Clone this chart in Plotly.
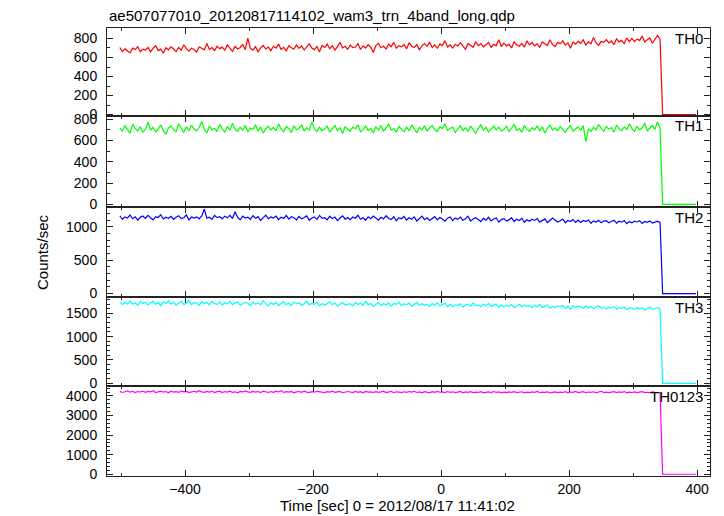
import numpy as np
import plotly.graph_objects as go
from plotly.subplots import make_subplots

# ---------------- data ----------------
title_text = "ae507077010_20120817114102_wam3_trn_4band_long.qdp"
x_title = "Time [sec] 0 = 2012/08/17 11:41:02"
y_title = "Counts/sec"
band_names = ["TH0", "TH1", "TH2", "TH3", "TH0123"]
band_colors = ["#ff0000", "#00ff00", "#0000ff", "#00ffff", "#ff00ff"]

time_start = -502.0   # first bin centre [s]
bin_width = 4.0       # [s]

off_counts = [0, 0, 0, 0, 0, 0, 0, 0, 0, 0, 0, 0, 0, 0]

th0_counts = [
    705, 662, 690, 671, 648, 698, 683, 712, 660, 688,
    679, 705, 659, 697, 724, 672, 688, 645, 703, 681,
    713, 689, 662, 705, 676, 734, 693, 667, 698, 683,
    656, 712, 698, 680, 746, 685, 704, 672, 719, 693,
    709, 677, 732, 696, 664, 717, 690, 705, 736, 682,
    803, 696, 678, 713, 660, 701, 726, 689, 710, 672,
    718, 699, 741, 684, 707, 670, 724, 703, 689, 730,
    696, 722, 678, 711, 745, 700, 683, 715, 659, 726,
    705, 740, 692, 723, 678, 714, 759, 700, 718, 687,
    731, 703, 710, 746, 684, 723, 699, 735, 708, 653,
    726, 749, 703, 718, 690, 742, 714, 759, 697, 724,
    712, 737, 691, 756, 719, 704, 735, 680, 723, 746,
    717, 761, 706, 733, 697, 743, 725, 777, 711, 732,
    699, 739, 721, 755, 714, 686, 748, 729, 707, 765,
    724, 746, 712, 733, 760, 706, 738, 723, 788, 715,
    751, 722, 738, 700, 765, 734, 719, 748, 710, 775,
    734, 758, 723, 744, 706, 763, 740, 726, 787, 738,
    715, 759, 744, 775, 730, 753, 697, 764, 741, 770,
    749, 787, 731, 765, 744, 811, 753, 727, 770, 759,
    787, 753, 774, 735, 796, 764, 780, 747, 805, 766,
    801, 767, 793, 780, 825, 763, 787, 805, 750, 799,
    832, 790,
] + off_counts

th1_counts = [
    720, 688, 741, 702, 668, 755, 714, 690, 731, 679,
    706, 772, 698, 725, 681, 710, 746, 693, 660, 719,
    737, 701, 684, 758, 712, 676, 729, 695, 744, 708,
    690, 723, 781, 705, 672, 738, 700, 716, 684, 752,
    711, 679, 733, 697, 764, 706, 687, 725, 698, 741,
    682, 717, 702, 748, 690, 728, 669, 712, 736, 699,
    724, 691, 757, 708, 683, 730, 714, 675, 739, 702,
    716, 745, 689, 722, 698, 776, 707, 684, 727, 693,
    708, 735, 679, 712, 740, 695, 720, 666, 731, 704,
    689, 726, 711, 748, 683, 702, 737, 694, 715, 672,
    729, 700, 742, 686, 719, 755, 698, 711, 677, 733,
    705, 682, 726, 694, 747, 709, 671, 724, 700, 738,
    691, 718, 743, 702, 685, 730, 712, 758, 696, 714,
    727, 675, 709, 740, 693, 721, 686, 734, 705, 668,
    715, 749, 698, 724, 680, 711, 737, 701, 726, 690,
    703, 735, 684, 718, 752, 697, 713, 679, 742, 708,
    686, 722, 701, 738, 694, 729, 670, 716, 745, 699,
    720, 693, 731, 705, 677, 714, 740, 688, 705, 728,
    697, 741, 590, 710, 683, 725, 699, 750, 714, 687,
    732, 706, 722, 679, 745, 712, 694, 728, 703, 757,
    713, 686, 734, 701, 720, 764, 692, 716, 741, 705,
    778, 712,
] + off_counts

th2_counts = [
    1165, 1112, 1148, 1131, 1176, 1120, 1150, 1098, 1141, 1160,
    1125, 1170, 1136, 1104, 1152, 1139, 1181, 1117, 1144, 1128,
    1157, 1109, 1142, 1166, 1123, 1135, 1178, 1101, 1146, 1130,
    1148, 1119, 1162, 1265, 1127, 1143, 1110, 1169, 1136, 1151,
    1116, 1158, 1134, 1172, 1124, 1225, 1139, 1105, 1160, 1131,
    1145, 1112, 1166, 1128, 1151, 1094, 1138, 1173, 1120, 1147,
    1131, 1160, 1107, 1142, 1125, 1168, 1115, 1150, 1136, 1102,
    1154, 1119, 1139, 1163, 1097, 1132, 1148, 1110, 1170, 1127,
    1136, 1103, 1158, 1122, 1145, 1092, 1131, 1164, 1115, 1140,
    1107, 1146, 1128, 1172, 1113, 1135, 1098, 1150, 1122, 1160,
    1130, 1099, 1142, 1117, 1165, 1124, 1108, 1149, 1090, 1137,
    1120, 1156, 1101, 1135, 1112, 1148, 1087, 1129, 1160, 1106,
    1133, 1095, 1124, 1151, 1102, 1139, 1115, 1083, 1128, 1147,
    1092, 1130, 1111, 1146, 1098, 1121, 1159, 1085, 1117, 1135,
    1110, 1078, 1125, 1099, 1142, 1088, 1116, 1131, 1070, 1107,
    1121, 1085, 1103, 1136, 1079, 1112, 1094, 1127, 1068, 1105,
    1082, 1113, 1095, 1124, 1070, 1101, 1118, 1063, 1097, 1130,
    1101, 1072, 1090, 1115, 1060, 1094, 1079, 1108, 1066, 1099,
    1065, 1094, 1077, 1102, 1052, 1088, 1071, 1096, 1059, 1085,
    1090, 1061, 1079, 1098, 1055, 1083, 1069, 1094, 1048, 1077,
    1058, 1084, 1072, 1091, 1050, 1079, 1066, 1088, 1057, 1075,
    1083, 1062,
] + off_counts

th3_counts = [
    1745, 1688, 1731, 1702, 1766, 1694, 1728, 1673, 1750, 1711,
    1739, 1680, 1722, 1758, 1697, 1734, 1665, 1745, 1709, 1771,
    1698, 1740, 1676, 1725, 1753, 1690, 1716, 1779, 1684, 1731,
    1720, 1667, 1749, 1703, 1735, 1681, 1757, 1712, 1690, 1740,
    1679, 1727, 1701, 1760, 1686, 1719, 1744, 1672, 1708, 1733,
    1715, 1663, 1738, 1692, 1725, 1680, 1767, 1702, 1656, 1729,
    1688, 1734, 1670, 1711, 1748, 1683, 1720, 1665, 1742, 1702,
    1726, 1675, 1705, 1758, 1681, 1714, 1693, 1737, 1660, 1709,
    1671, 1712, 1746, 1685, 1722, 1658, 1703, 1738, 1677, 1695,
    1708, 1660, 1731, 1690, 1719, 1673, 1752, 1686, 1712, 1649,
    1696, 1733, 1664, 1707, 1680, 1726, 1655, 1711, 1692, 1742,
    1662, 1701, 1685, 1722, 1648, 1690, 1734, 1669, 1706, 1678,
    1693, 1650, 1711, 1674, 1729, 1661, 1687, 1716, 1641, 1700,
    1648, 1683, 1667, 1705, 1638, 1679, 1698, 1652, 1721, 1664,
    1676, 1639, 1692, 1660, 1715, 1644, 1671, 1699, 1630, 1683,
    1635, 1672, 1651, 1688, 1622, 1665, 1694, 1640, 1677, 1656,
    1660, 1618, 1675, 1643, 1690, 1627, 1656, 1681, 1612, 1648,
    1621, 1659, 1637, 1670, 1605, 1648, 1576, 1663, 1629, 1652,
    1640, 1603, 1655, 1618, 1646, 1596, 1633, 1661, 1607, 1629,
    1595, 1631, 1610, 1648, 1588, 1622, 1604, 1637, 1579, 1618,
    1612, 1580, 1626, 1595, 1619, 1571, 1603, 1630, 1586, 1608,
    1624, 1590,
] + off_counts

th0123_counts = [
    4235, 4180, 4218, 4262, 4195, 4240, 4170, 4226, 4205, 4251,
    4188, 4230, 4212, 4275, 4176, 4219, 4244, 4193, 4228, 4160,
    4247, 4201, 4222, 4183, 4258, 4210, 4236, 4172, 4215, 4240,
    4196, 4268, 4208, 4185, 4231, 4203, 4252, 4178, 4220, 4245,
    4174, 4226, 4199, 4243, 4188, 4214, 4160, 4233, 4206, 4255,
    4212, 4183, 4237, 4195, 4228, 4170, 4249, 4203, 4179, 4226,
    4190, 4242, 4205, 4266, 4181, 4219, 4197, 4232, 4163, 4211,
    4229, 4188, 4248, 4201, 4174, 4225, 4192, 4239, 4208, 4185,
    4176, 4220, 4196, 4250, 4183, 4212, 4234, 4167, 4205, 4228,
    4203, 4172, 4231, 4190, 4218, 4161, 4236, 4194, 4212, 4180,
    4224, 4186, 4207, 4245, 4175, 4199, 4230, 4168, 4215, 4193,
    4170, 4216, 4188, 4227, 4197, 4240, 4179, 4205, 4160, 4221,
    4198, 4162, 4219, 4183, 4236, 4191, 4209, 4173, 4228, 4186,
    4214, 4177, 4193, 4230, 4165, 4207, 4184, 4222, 4170, 4201,
    4180, 4219, 4162, 4195, 4212, 4174, 4228, 4189, 4205, 4158,
    4197, 4168, 4210, 4183, 4224, 4171, 4192, 4215, 4163, 4200,
    4175, 4206, 4187, 4229, 4166, 4198, 4181, 4213, 4160, 4192,
    4210, 4170, 4196, 4178, 4221, 4165, 4203, 4186, 4230, 4174,
    4189, 4222, 4168, 4204, 4181, 4215, 4159, 4197, 4240, 4176,
    4201, 4167, 4193, 4218, 4172, 4206, 4184, 4226, 4163, 4195,
    4178, 4210, 4169, 4198, 4224, 4173, 4190, 4161, 4207, 4185,
    4196, 4170,
] + off_counts

band_counts = [th0_counts, th1_counts, th2_counts, th3_counts, th0123_counts]

# axis settings per panel
x_range = [-522, 420]
y_ranges = [[-15, 910], [-25, 831], [-52, 1296], [-58, 1850], [-90, 4510]]
y_dticks = [200, 200, 500, 500, 1000]
y_minor = [100, 100, 100, 100, 200]

# ---------------- figure ----------------
W, H = 724, 516
ml, mr, mt, mb = 107, 14, 28, 40
plot_h = H - mt - mb
# panel boundaries in pixels from top of the page
bounds_px = [28, 116, 207, 297, 386, 476]

fig = make_subplots(rows=5, cols=1, shared_xaxes=True, vertical_spacing=0)

font_family = "Liberation Sans, Arial, Helvetica, sans-serif"

for i, (name, col, vals) in enumerate(zip(band_names, band_colors, band_counts)):
    t = time_start + bin_width * np.arange(len(vals))
    fig.add_trace(
        go.Scatter(x=t, y=vals, mode="lines", line=dict(color=col, width=1.2),
                   name=name, showlegend=False, hoverinfo="skip"),
        row=i + 1, col=1,
    )
    top = 1 - (bounds_px[i] - mt) / plot_h
    bot = 1 - (bounds_px[i + 1] - mt) / plot_h
    yname = "yaxis" if i == 0 else f"yaxis{i + 1}"
    xname = "xaxis" if i == 0 else f"xaxis{i + 1}"
    fig.layout[yname].update(
        domain=[bot, top], range=y_ranges[i], dtick=y_dticks[i], tick0=0,
        showgrid=False, zeroline=False, showline=True, linecolor="#222",
        linewidth=1, mirror="allticks", ticks="inside", ticklen=6,
        tickcolor="#222", tickwidth=1,
        minor=dict(dtick=y_minor[i], ticklen=3, ticks="inside", tickcolor="#222", showgrid=False),
        tickfont=dict(family=font_family, size=14, color="#000"),
        ticklabelstandoff=6,
    )
    fig.layout[xname].update(
        range=x_range, dtick=200, tick0=0, showgrid=False, zeroline=False,
        showline=True, linecolor="#222", linewidth=1, mirror="allticks",
        ticks="inside", ticklen=6, tickcolor="#222", tickwidth=1,
        minor=dict(dtick=100, ticklen=3, ticks="inside", tickcolor="#222", showgrid=False),
        showticklabels=(i == 4),
        tickfont=dict(family=font_family, size=14, color="#000"),
    )
    fig.add_annotation(
        text=name, xref="paper", yref=f"y{'' if i == 0 else i + 1} domain",
        x=(705 - ml) / (W - ml - mr), y=1, xanchor="right", yanchor="middle",
        yshift=-10, showarrow=False,
        font=dict(family=font_family, size=15, color="#000"),
    )

# titles
fig.add_annotation(
    text=title_text, xref="paper", yref="paper", x=0, y=1, xanchor="left",
    yanchor="middle", yshift=13, showarrow=False,
    font=dict(family=font_family, size=15, color="#000"),
)
fig.add_annotation(
    text=x_title, xref="paper", yref="paper", x=(397 - ml) / (W - ml - mr), y=0,
    xanchor="center", yanchor="middle", yshift=-29, showarrow=False,
    font=dict(family=font_family, size=15, color="#000"),
)
fig.add_annotation(
    text=y_title, xref="paper", yref="paper", x=0, y=0.5, xanchor="center",
    yanchor="middle", xshift=-65, textangle=-90, showarrow=False,
    font=dict(family=font_family, size=15, color="#000"),
)

fig.update_layout(
    width=W, height=H, margin=dict(l=ml, r=mr, t=mt, b=mb),
    paper_bgcolor="white", plot_bgcolor="white",
)

fig.write_html(
    "out.html",
    config={"displayModeBar": False},
    post_script="document.body.style.margin='0';document.body.style.overflow='hidden';",
)
